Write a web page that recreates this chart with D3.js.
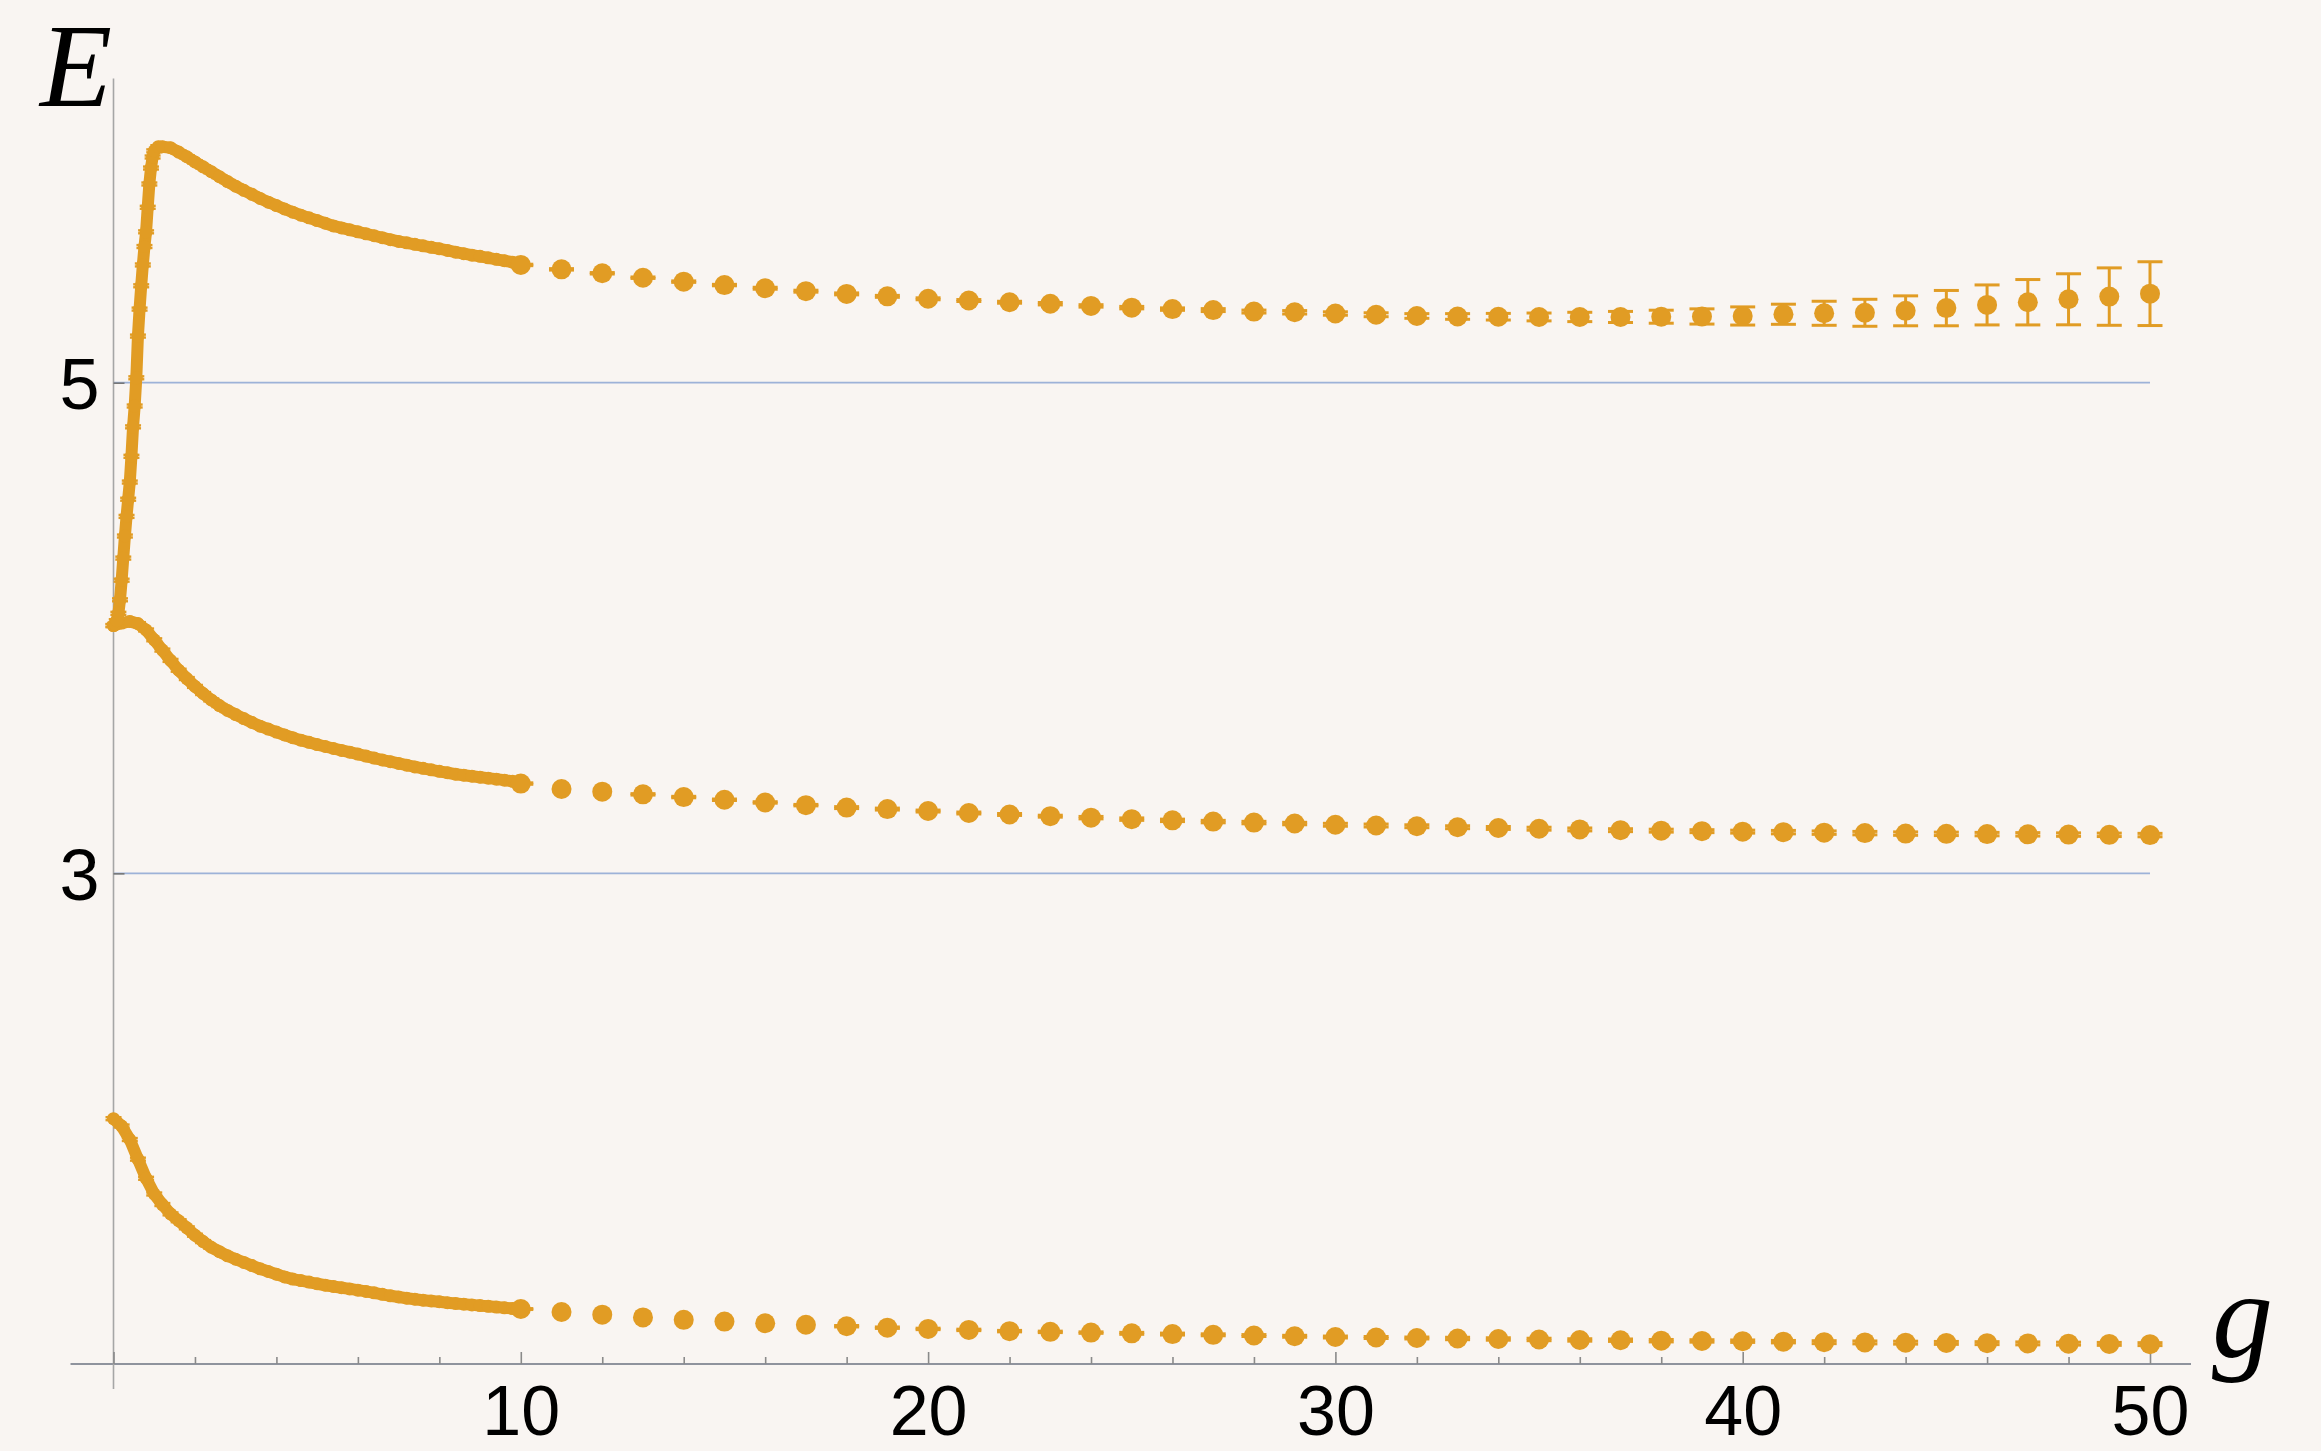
<!DOCTYPE html>
<html>
<head>
<meta charset="utf-8">
<script src="https://cdn.jsdelivr.net/npm/d3@7"></script>
<style>
  html, body { margin: 0; padding: 0; background: #f9f5f2; }
  svg { display: block; }
</style>
</head>
<body>
<script>
// ---- data -------------------------------------------------------------
// fine-step scan, g < 10 (lower two levels share the same g grid)
const gDense = [0,0.2,0.4,0.6,0.8,1.0,1.2,1.4,1.6,1.8,2.0,2.2,2.4,2.6,2.8,3.0,3.2,3.4,3.6,3.8,
  4.0,4.2,4.4,4.6,4.8,5.0,5.2,5.4,5.6,5.8,6.0,6.2,6.4,6.6,6.8,7.0,7.2,7.4,7.6,7.8,
  8.0,8.2,8.4,8.6,8.8,9.0,9.2,9.4,9.6,9.8];
const eBottomDense = [2.000,1.970,1.915,1.835,1.757,1.693,1.650,1.612,1.584,1.555,
  1.525,1.499,1.476,1.458,1.441,1.427,1.414,1.401,1.388,1.377,
  1.366,1.355,1.346,1.340,1.334,1.327,1.321,1.316,1.311,1.306,
  1.301,1.296,1.290,1.284,1.278,1.273,1.268,1.264,1.260,1.257,
  1.254,1.250,1.247,1.244,1.241,1.238,1.235,1.232,1.229,1.226];
const eMiddleDense = [4.010,4.020,4.027,4.018,3.992,3.952,3.910,3.868,3.828,3.794,
  3.762,3.733,3.707,3.684,3.664,3.647,3.631,3.615,3.600,3.588,
  3.576,3.564,3.553,3.543,3.534,3.525,3.517,3.509,3.501,3.494,
  3.486,3.478,3.470,3.462,3.455,3.448,3.441,3.434,3.428,3.422,
  3.416,3.410,3.404,3.400,3.396,3.392,3.388,3.384,3.380,3.375];
// upper level: finer steps through the steep rise
const gDenseTop = [0,0.04,0.08,0.12,0.16,0.20,0.24,0.28,0.32,0.36,0.40,0.44,0.48,0.52,0.56,
  0.60,0.64,0.68,0.72,0.76,0.80,0.84,0.88,0.92,0.96,1.00,1.1,
  1.2,1.4,1.6,1.8,2.0,2.2,2.4,2.6,2.8,3.0,3.2,3.4,3.6,3.8,4.0,4.2,4.4,4.6,4.8,
  5.0,5.2,5.4,5.6,5.8,6.0,6.2,6.4,6.6,6.8,7.0,7.2,7.4,7.6,7.8,8.0,8.2,8.4,8.6,8.8,
  9.0,9.2,9.4,9.6,9.8];
const eTopDense = [4.010,4.015,4.030,4.060,4.115,4.195,4.285,4.375,4.455,4.525,4.595,4.700,4.820,4.905,5.020,
  5.190,5.300,5.395,5.480,5.555,5.615,5.715,5.810,5.875,5.920,5.945,5.962,
  5.962,5.958,5.940,5.921,5.900,5.880,5.860,5.840,5.820,5.801,5.784,5.768,5.751,5.736,5.722,5.708,5.695,5.683,5.672,
  5.661,5.650,5.639,5.631,5.623,5.615,5.607,5.599,5.591,5.583,5.576,5.570,5.564,5.558,5.552,5.546,5.539,5.532,5.526,5.520,
  5.515,5.509,5.503,5.497,5.491];
const denseErr = 0.006;

// integer-step points, g = 10 ... 50
const gCoarse = [10,11,12,13,14,15,16,17,18,19,20,21,22,23,24,25,26,27,28,29,30,
  31,32,33,34,35,36,37,38,39,40,41,42,43,44,45,46,47,48,49,50];
const eBottom = [1.224,1.212,1.201,1.190,1.180,1.173,1.166,1.160,1.154,1.148,1.143,
  1.139,1.134,1.131,1.128,1.125,1.122,1.119,1.116,1.113,1.110,
  1.108,1.106,1.104,1.102,1.100,1.098,1.097,1.095,1.094,1.093,
  1.091,1.089,1.088,1.087,1.086,1.085,1.084,1.083,1.082,1.081];
const errBottom = [0.002,0,0,0,0,0,0,0,0.003,0.003,0.003,
  0.003,0.003,0.003,0.003,0.004,0.004,0.004,0.004,0.004,0.004,
  0.004,0.004,0.005,0.005,0.005,0.005,0.005,0.005,0.005,0.005,
  0.005,0.006,0.006,0.006,0.006,0.006,0.006,0.006,0.006,0.006];
const eMiddle = [3.366,3.344,3.333,3.322,3.311,3.300,3.289,3.278,3.268,3.262,3.254,
  3.246,3.240,3.233,3.227,3.221,3.216,3.211,3.207,3.203,3.198,
  3.195,3.192,3.188,3.185,3.182,3.179,3.176,3.174,3.172,3.170,
  3.168,3.166,3.164,3.162,3.161,3.160,3.159,3.158,3.157,3.156];
const errMiddle = [0.003,0,0,0.003,0.003,0.003,0.003,0.003,0.004,0.004,0.004,
  0.004,0.004,0.004,0.005,0.005,0.005,0.005,0.005,0.005,0.006,
  0.006,0.006,0.006,0.006,0.006,0.006,0.006,0.006,0.006,0.006,
  0.007,0.007,0.007,0.007,0.007,0.007,0.007,0.007,0.007,0.007];
const eTop = [5.480,5.462,5.446,5.428,5.412,5.398,5.385,5.373,5.362,5.352,5.342,
  5.335,5.328,5.322,5.313,5.306,5.300,5.296,5.290,5.287,5.282,
  5.277,5.272,5.270,5.269,5.268,5.268,5.268,5.269,5.270,5.272,
  5.279,5.283,5.285,5.293,5.304,5.317,5.328,5.340,5.351,5.363];
const errTop = [0.003,0.003,0.003,0.003,0.003,0.003,0.004,0.004,0.004,0.004,0.004,
  0.004,0.004,0.005,0.005,0.005,0.005,0.006,0.006,0.007,0.007,
  0.008,0.0095,0.0115,0.0135,0.016,0.019,0.0225,0.0265,0.031,0.037,
  0.041,0.049,0.055,0.061,0.072,0.0815,0.0925,0.104,0.117,0.130];

// axis ticks
const xMajorTicks = [0,10,20,30,40,50];
const xMinorTicks = [2,4,6,8,12,14,16,18,22,24,26,28,32,34,36,38,42,44,46,48];
const yTicks = [3,5];
const xLabel = "g";
const yLabel = "E";

// ---- drawing ----------------------------------------------------------
const W = 2321, H = 1451;
const colour = "#e19c24";

const svg = d3.select("body").append("svg")
  .attr("width", W).attr("height", H);

svg.append("rect").attr("width", W).attr("height", H).attr("fill", "#f9f5f2");

const x = d3.scaleLinear().domain([0, 50]).range([113.5, 2150]);
const y = d3.scaleLinear().domain([1, 5]).range([1364, 382.7]);

// horizontal grid lines at the labelled energies
svg.append("g").selectAll("line").data(yTicks).join("line")
  .attr("x1", x(0)).attr("x2", x(50))
  .attr("y1", d => y(d)).attr("y2", d => y(d))
  .attr("stroke", "#9db2d8").attr("stroke-width", 1.7);

// axis lines, crossing at the origin
svg.append("line")
  .attr("x1", x(0) - 43).attr("x2", x(50) + 41)
  .attr("y1", y(1)).attr("y2", y(1))
  .attr("stroke", "#8f939d").attr("stroke-width", 2.2);
svg.append("line")
  .attr("x1", x(0)).attr("x2", x(0))
  .attr("y1", y(1) + 25).attr("y2", y(6.24))
  .attr("stroke", "#a6a6a6").attr("stroke-width", 1.6);

const tickFont = "'Liberation Sans', Arial, Helvetica, sans-serif";

// x axis: major ticks with labels, minor ticks without
const xMajor = svg.append("g").attr("transform", `translate(0,${y(1)})`)
  .call(d3.axisBottom(x).tickValues(xMajorTicks).tickSize(-12).tickPadding(0)
    .tickFormat(d => d === 0 ? "" : d3.format("d")(d)));
const xMinor = svg.append("g").attr("transform", `translate(0,${y(1)})`)
  .call(d3.axisBottom(x).tickValues(xMinorTicks).tickSize(-7).tickFormat(""));
[xMajor, xMinor].forEach(g => {
  g.select(".domain").remove();
  g.selectAll(".tick line").attr("stroke", "#8a8a8a").attr("stroke-width", 1.6);
});
xMajor.selectAll(".tick text")
  .attr("y", 71).attr("dy", null)
  .attr("fill", "#000").attr("font-family", tickFont).attr("font-size", 70);

// y axis: ticks pointing into the plot, labels on the left
const yAxis = svg.append("g").attr("transform", `translate(${x(0)},0)`)
  .call(d3.axisLeft(y).tickValues(yTicks).tickSize(-11).tickPadding(14)
    .tickFormat(d3.format("d")));
yAxis.select(".domain").remove();
yAxis.selectAll(".tick line").attr("stroke", "#777").attr("stroke-width", 1.6);
yAxis.selectAll(".tick text")
  .attr("dy", "0.36em").attr("fill", "#000")
  .attr("font-family", tickFont).attr("font-size", 72);

// axis titles
const titleFont = "'Liberation Serif', 'Times New Roman', serif";
svg.append("text").text(yLabel)
  .attr("x", 40).attr("y", 106)
  .attr("font-family", titleFont).attr("font-style", "italic").attr("font-size", 118)
  .attr("fill", "#000");
svg.append("text").text(xLabel)
  .attr("x", 2212).attr("y", 1357)
  .attr("font-family", titleFont).attr("font-style", "italic").attr("font-size", 122)
  .attr("fill", "#000");

// ---- series -----------------------------------------------------------
const denseSets = [
  { g: gDense, e: eBottomDense },
  { g: gDense, e: eMiddleDense },
  { g: gDenseTop, e: eTopDense }
];
const coarseSets = [
  { e: eBottom, err: errBottom },
  { e: eMiddle, err: errMiddle },
  { e: eTop, err: errTop }
];

const line = d3.line().x(d => x(d[0])).y(d => y(d[1]));
const plot = svg.append("g");

denseSets.forEach(s => {
  const pts = s.g.map((g, i) => [g, s.e[i]]);
  const grp = plot.append("g");
  // closely spaced points merge into a band
  grp.append("path").datum(pts).attr("d", line)
    .attr("fill", "none").attr("stroke", colour).attr("stroke-width", 12)
    .attr("stroke-linejoin", "round").attr("stroke-linecap", "round");
  // small error caps
  grp.selectAll("line.cap").data(pts.flatMap(p => [[p[0], p[1] + denseErr], [p[0], p[1] - denseErr]]))
    .join("line").attr("class", "cap")
    .attr("x1", d => x(d[0]) - 8).attr("x2", d => x(d[0]) + 8)
    .attr("y1", d => y(d[1])).attr("y2", d => y(d[1]))
    .attr("stroke", colour).attr("stroke-width", 2.4);
  grp.selectAll("circle").data(pts).join("circle")
    .attr("cx", d => x(d[0])).attr("cy", d => y(d[1])).attr("r", 6.5)
    .attr("fill", colour);
});

coarseSets.forEach(s => {
  const pts = gCoarse.map((g, i) => ({ g, e: s.e[i], err: s.err[i] }));
  const grp = plot.append("g");
  const withErr = pts.filter(d => d.err > 0);
  grp.selectAll("line.bar").data(withErr).join("line").attr("class", "bar")
    .attr("x1", d => x(d.g)).attr("x2", d => x(d.g))
    .attr("y1", d => y(d.e - d.err)).attr("y2", d => y(d.e + d.err))
    .attr("stroke", colour).attr("stroke-width", 3);
  grp.selectAll("line.cap").data(withErr.flatMap(d => [
      { g: d.g, v: d.e + d.err }, { g: d.g, v: d.e - d.err }]))
    .join("line").attr("class", "cap")
    .attr("x1", d => x(d.g) - 12.5).attr("x2", d => x(d.g) + 12.5)
    .attr("y1", d => y(d.v)).attr("y2", d => y(d.v))
    .attr("stroke", colour).attr("stroke-width", 3);
  grp.selectAll("circle").data(pts).join("circle")
    .attr("cx", d => x(d.g)).attr("cy", d => y(d.e)).attr("r", 10)
    .attr("fill", colour);
});
</script>
</body>
</html>
